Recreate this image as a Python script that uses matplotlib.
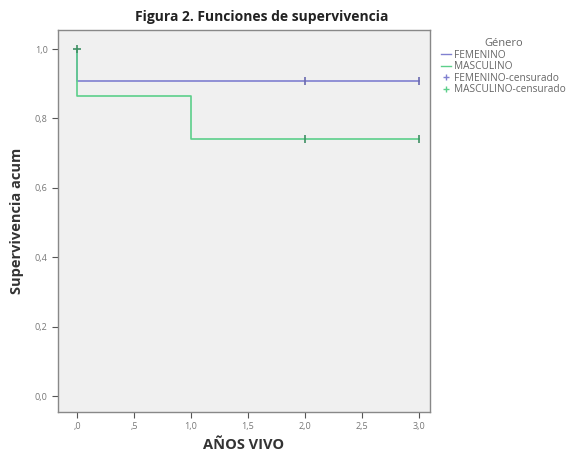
import matplotlib
matplotlib.use("Agg")
import matplotlib.pyplot as plt
from matplotlib.lines import Line2D

# Data
fem_t = [0, 0, 3]
fem_s = [1.0, 0.909, 0.909]
fem_cens_t = [2, 3]
fem_cens_s = [0.909, 0.909]

masc_t = [0, 0, 1, 1, 3]
masc_s = [1.0, 0.864, 0.864, 0.741, 0.741]
masc_cens_t = [0, 2, 3]
masc_cens_s = [1.0, 0.741, 0.741]

xticks = [0, 0.5, 1.0, 1.5, 2.0, 2.5, 3.0]
xticklabels = [",0", ",5", "1,0", "1,5", "2,0", "2,5", "3,0"]
yticks = [0.0, 0.2, 0.4, 0.6, 0.8, 1.0]
yticklabels = ["0,0", "0,2", "0,4", "0,6", "0,8", "1,0"]
legend_labels = ["FEMENINO", "MASCULINO", "FEMENINO-censurado", "MASCULINO-censurado"]

fem_color = "#8080d0"
masc_color = "#5ccf8a"

plt.rcParams['font.family'] = ['Open Sans', 'DejaVu Sans']

fig = plt.figure(figsize=(5.74, 4.54), dpi=100)
ax = fig.add_axes([58/574, 42/454, (430-58)/574, (412-30)/454])
ax.set_facecolor("#f0f0f0")

ax.plot(fem_t, fem_s, color=fem_color, lw=1.2)
ax.plot(masc_t, masc_s, color=masc_color, lw=1.2)
ax.plot(fem_cens_t, fem_cens_s, ls='none', marker='|', ms=6, mew=1.2, color="#6a6ab0")
ax.plot(masc_cens_t, masc_cens_s, ls='none', marker='|', ms=6, mew=1.2, color="#3f8f64")
ax.plot([0], [1.0], ls='none', marker='_', ms=6, mew=1.2, color="#3f8f64")

ax.set_xlim(-0.167, 3.1)
ax.set_ylim(-0.046, 1.055)
ax.set_xticks(xticks)
ax.set_xticklabels(xticklabels)
ax.set_yticks(yticks)
ax.set_yticklabels(yticklabels)
ax.tick_params(axis='both', direction='out', length=4, width=0.8, colors="#555555",
               labelsize=6.5, labelcolor="#777777")
for sp in ax.spines.values():
    sp.set_color("#888888")
    sp.set_linewidth(1.0)

ax.set_xlabel("AÑOS VIVO", fontsize=10.5, fontweight='bold', color="#333333", labelpad=5)
ax.set_ylabel("Supervivencia acum", fontsize=10.5, fontweight='bold', color="#333333", labelpad=8)
fig.text(262/574, 1 - 17/454, "Figura 2. Funciones de supervivencia", ha='center', va='center',
         fontsize=10, fontweight='bold', color="#222222")

handles = [
    Line2D([0], [0], color=fem_color, lw=1.0),
    Line2D([0], [0], color=masc_color, lw=1.0),
    Line2D([0], [0], color=fem_color, lw=0, marker='+', ms=5),
    Line2D([0], [0], color=masc_color, lw=0, marker='+', ms=5),
]
leg = fig.legend(handles, legend_labels, title="Género", loc='upper left',
                 bbox_to_anchor=(434/574, 1 - 31/454), frameon=False,
                 fontsize=7.3, title_fontsize=8, handlelength=1.0, handletextpad=0.25,
                 labelspacing=0.05, borderpad=0.2)
leg._legend_box.align = "center"
for t in leg.get_texts():
    t.set_color("#666666")
leg.get_title().set_color("#666666")

fig.savefig("out.png", dpi=100)
